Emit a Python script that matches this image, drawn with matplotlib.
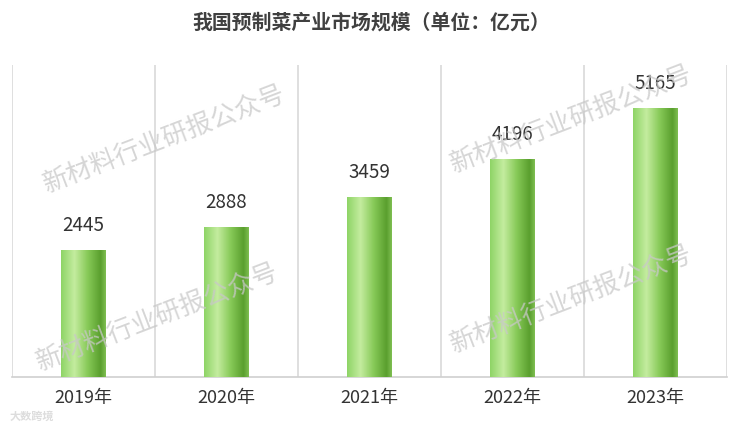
import matplotlib
matplotlib.use("Agg")
import matplotlib.pyplot as plt
import numpy as np
from matplotlib.colors import LinearSegmentedColormap

plt.rcParams['font.family'] = ['Noto Sans CJK SC', 'DejaVu Sans']

# data
years = ["2019年", "2020年", "2021年", "2022年", "2023年"]
values = [2445, 2888, 3459, 4196, 5165]
title = "我国预制菜产业市场规模（单位：亿元）"
watermark = "新材料行业研报公众号"

fig = plt.figure(figsize=(7.42, 4.23), dpi=100)
ax = fig.add_axes([12/742, 1 - 377/423, 715/742, 312/423])

x = np.arange(len(years))
bars = ax.bar(x, values, width=0.31, color="none", zorder=3)

# horizontal gradient inside each bar
grad_cmap = LinearSegmentedColormap.from_list(
    "g", [(0, "#8ed466"), (0.3, "#c4ec9f"), (0.6, "#86c957"),
          (0.88, "#5a9f2e"), (1, "#7fbf52")])
grad = np.linspace(0, 1, 256).reshape(1, -1)
for b in bars:
    x0, y0 = b.get_x(), b.get_y()
    w, h = b.get_width(), b.get_height()
    im = ax.imshow(grad, cmap=grad_cmap, aspect="auto",
                   extent=[x0, x0 + w, y0, y0 + h], zorder=3)
    im.set_clip_path(b)

for xi, v in zip(x, values):
    ax.text(xi, v + 270, str(v), ha="center", va="bottom",
            fontsize=13.5, color="#333333", zorder=4)

ax.set_xlim(-0.5, len(years) - 0.5)
ax.set_ylim(0, 6000)
ax.set_yticks([])
ax.set_xticks(x)
ax.set_xticklabels(years, fontsize=13, color="#333333")
ax.tick_params(axis="x", length=0, pad=9)

for bx in np.arange(-0.5, len(years), 1.0):
    ax.axvline(bx, color="#d9d9d9", lw=1.2, zorder=1)
for s in ["top", "left", "right"]:
    ax.spines[s].set_visible(False)
ax.spines["bottom"].set_color("#d0d0d0")
ax.spines["bottom"].set_linewidth(1.2)

fig.text(0.5, 1 - 22/423, title, ha="center", va="center",
         fontsize=14.3, fontweight="bold", color="#404040")

# watermarks
for (wx, wy) in [(165, 140), (572, 120), (158, 318), (572, 300)]:
    fig.text(wx/742, 1 - wy/423, watermark, ha="center", va="center",
             fontsize=18.5, color="#c8c8c8", alpha=0.75, rotation=21,
             zorder=5)

# small logo text, bottom-left
fig.text(10/742, 1 - 416/423, "大数跨境", ha="left", va="center",
         fontsize=8, color="#dddddd", fontweight="bold")

fig.savefig("out.png", dpi=100)
